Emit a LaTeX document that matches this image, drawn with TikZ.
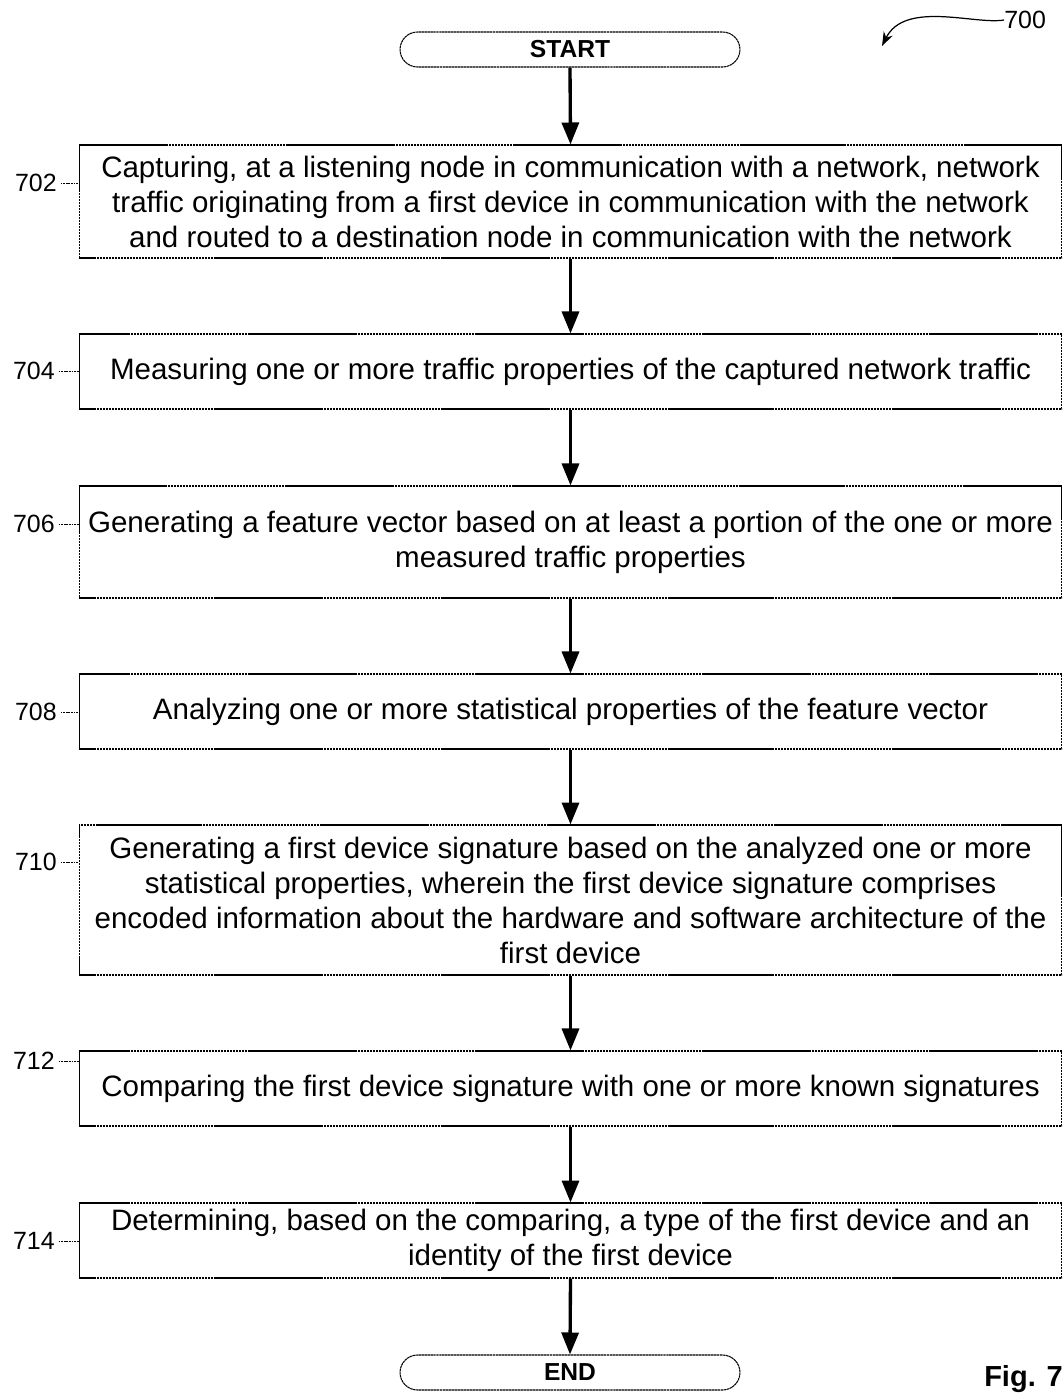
\documentclass[tikz,border=0pt]{standalone}
\usepackage{fontspec}
\setmainfont{Liberation Sans}
\usetikzlibrary{arrows.meta}
\begin{document}
\begin{tikzpicture}[x=0.02cm,y=-0.02cm,
  bx/.style={draw, line width=0.6pt, dash pattern=on 1.4pt off 0.3pt, minimum width=19.66cm, align=center, inner sep=0pt, font=\fontsize{16.8}{19.9}\selectfont},
  term/.style={draw, line width=0.6pt, dash pattern=on 1.4pt off 0.3pt, rounded corners=0.35cm, minimum width=6.8cm, minimum height=0.7cm, inner sep=0pt, font=\bfseries\fontsize{14}{16}\selectfont},
  flow/.style={line width=1.9pt, -{Triangle[length=0.44cm,width=0.34cm]}},
  lbl/.style={font=\fontsize{14.2}{17}\selectfont, inner sep=0pt},
  lead/.style={line width=0.5pt, dash pattern=on 1pt off 0.5pt}]
\useasboundingbox (0,0) rectangle (1063,1393);

\node[term] (start) at (570,49.5) {START};
\node[bx, minimum height=2.26cm] (b702) at (570.5,201.5) {Capturing, at a listening node in communication with a network, network\\traffic originating from a first device in communication with the network\\and routed to a destination node in communication with the network};
\node[bx, minimum height=1.5cm] (b704) at (570.5,371.5) {Measuring one or more traffic properties of the captured network traffic};
\node[bx, minimum height=2.24cm] (b706) at (570.5,542) {Generating a feature vector based on at least a portion of the one or more\\measured traffic properties};
\node[bx, minimum height=1.5cm] (b708) at (570.5,711.5) {Analyzing one or more statistical properties of the feature vector};
\node[bx, minimum height=3.0cm] (b710) at (570.5,900) {Generating a first device signature based on the analyzed one or more\\statistical properties, wherein the first device signature comprises\\encoded information about the hardware and software architecture of the\\first device};
\node[bx, minimum height=1.5cm] (b712) at (570.5,1088.5) {Comparing the first device signature with one or more known signatures};
\node[bx, minimum height=1.5cm] (b714) at (570.5,1240.5) {Determining, based on the comparing, a type of the first device and an\\identity of the first device};
\node[term] (end) at (570,1372.5) {END};

\draw[flow] (start.south) -- (b702.north);
\draw[flow] (b702.south) -- (b704.north);
\draw[flow] (b704.south) -- (b706.north);
\draw[flow] (b706.south) -- (b708.north);
\draw[flow] (b708.south) -- (b710.north);
\draw[flow] (b710.south) -- (b712.north);
\draw[flow] (b712.south) -- (b714.north);
\draw[flow] (b714.south) -- (end.north);

\node[lbl, anchor=east] (l702) at (57,183) {702};
\node[lbl, anchor=east] (l704) at (55,371) {704};
\node[lbl, anchor=east] (l706) at (55,524) {706};
\node[lbl, anchor=east] (l708) at (57,712) {708};
\node[lbl, anchor=east] (l710) at (57,862) {710};
\node[lbl, anchor=east] (l712) at (55,1061) {712};
\node[lbl, anchor=east] (l714) at (55,1241) {714};
\foreach \n in {702,704,706,708,710,712,714}
  \draw[lead] ([xshift=2pt]l\n.east) -- (l\n.east -| b\n.west);

\node[lbl, anchor=west] (l700) at (1004,20) {700};
\draw[line width=0.7pt, -{Stealth[length=0.28cm,width=0.2cm]}] (l700.west) .. controls (975,25) and (905,0) .. (882,46);

\node[font=\bfseries\fontsize{16.5}{19}\selectfont, inner sep=0pt, anchor=east] (fig) at (1063,1379) {Fig. 7};
\end{tikzpicture}
\end{document}
